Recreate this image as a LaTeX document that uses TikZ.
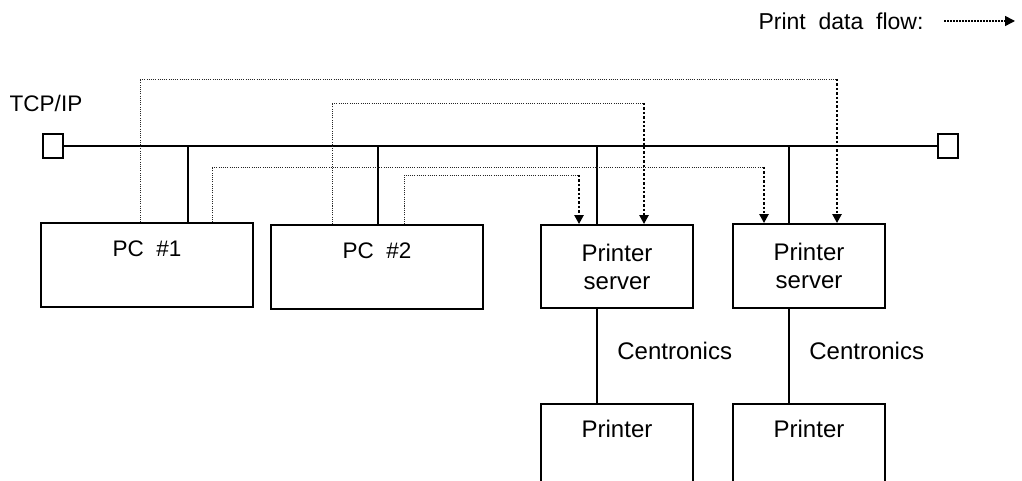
\documentclass[tikz,border=0pt]{standalone}
\usepackage{fontspec}
\setmainfont{Liberation Sans}
\usetikzlibrary{positioning,arrows.meta}

\begin{document}
\begin{tikzpicture}[x=1pt, y=-1pt, font=\fontsize{24}{28}\selectfont,
  unitbox/.style={draw, line width=1.8pt, minimum height=84pt, align=center, inner sep=0pt},
  pcbox/.style={unitbox, minimum width=212pt, font=\fontsize{22.5}{28}\selectfont},
  srvbox/.style={unitbox, minimum width=152pt},
  termbox/.style={draw, line width=1.8pt, minimum width=20pt, minimum height=24pt, inner sep=0pt},
  wire/.style={line width=2pt},
  flowline/.style={line width=0.8pt, black!85, dash pattern=on 1pt off 1.2pt},
  flowdown/.style={line width=2.6pt, dash pattern=on 2.4pt off 2pt, -{Triangle[length=9pt,width=9pt]}}]
\useasboundingbox (0,0) rectangle (1022,481);
\clip (0,0) rectangle (1022,481);

% legend
\node[font=\fontsize{23}{28}\selectfont] (legend) at (841,21) {Print\ \ data\ \ flow:};
\coordinate (flowend) at (1015,21);
\draw[line width=1.5pt, dash pattern=on 1.5pt off 1.5pt, -{Triangle[length=10pt,width=10pt]}] ([xshift=17pt]legend.east) -- (flowend);

% bus
\node[font=\fontsize{22.5}{28}\selectfont] (tcpip) at (46,103) {TCP/IP};
\node[termbox] (termL) at (53,146) {};
\node[termbox] (termR) at (948,146) {};
\draw[wire] (termL) -- (termR);

% hosts and servers
\node[pcbox] (pc1) at (147,265) {\strut PC\ \ \#1\\\strut};
\node[pcbox] (pc2) at (377,267) {\strut PC\ \ \#2\\\strut};
\node[srvbox, minimum height=83pt] (srv1) at (617,266.5) {Printer\\server};
\node[srvbox] (srv2) at (809,266) {Printer\\server};
\node[srvbox, below=94pt of srv1] (prn1) {\strut Printer\\\strut};
\node[srvbox, below=94pt of srv2] (prn2) {\strut Printer\\\strut};

\coordinate (tap1) at (188,146);
\coordinate (tap2) at (378,146);
\coordinate (tap3) at (597,146);
\coordinate (tap4) at (789,146);
\draw[wire] (tap1) -- (tap1 |- pc1.north);
\draw[wire] (tap2) -- (tap2 |- pc2.north);
\draw[wire] (tap3) -- (tap3 |- srv1.north);
\draw[wire] (tap4) -- (tap4 |- srv2.north);

% centronics
\draw[wire] ([xshift=-20pt]srv1.south) -- node[right=16pt, pos=0.45] (cen1) {Centronics} ([xshift=-20pt]prn1.north);
\draw[wire] ([xshift=-20pt]srv2.south) -- node[right=16pt, pos=0.45] (cen2) {Centronics} ([xshift=-20pt]prn2.north);

% print data flow
\coordinate (c1) at (837,79);
\coordinate (c2) at (764,167);
\coordinate (c3) at (644,103);
\coordinate (c4) at (579,175);
\draw[flowline] ([xshift=-7pt]pc1.north) |- (c1);
\draw[flowdown] (c1) -- ([xshift=28pt]srv2.north);
\draw[flowline] ([xshift=65pt]pc1.north) |- (c2);
\draw[flowdown] (c2) -- ([xshift=-45pt]srv2.north);
\draw[flowline] ([xshift=-45pt]pc2.north) |- (c3);
\draw[flowdown] (c3) -- ([xshift=27pt]srv1.north);
\draw[flowline] ([xshift=27pt]pc2.north) |- (c4);
\draw[flowdown] (c4) -- ([xshift=-38pt]srv1.north);
\end{tikzpicture}
\end{document}
